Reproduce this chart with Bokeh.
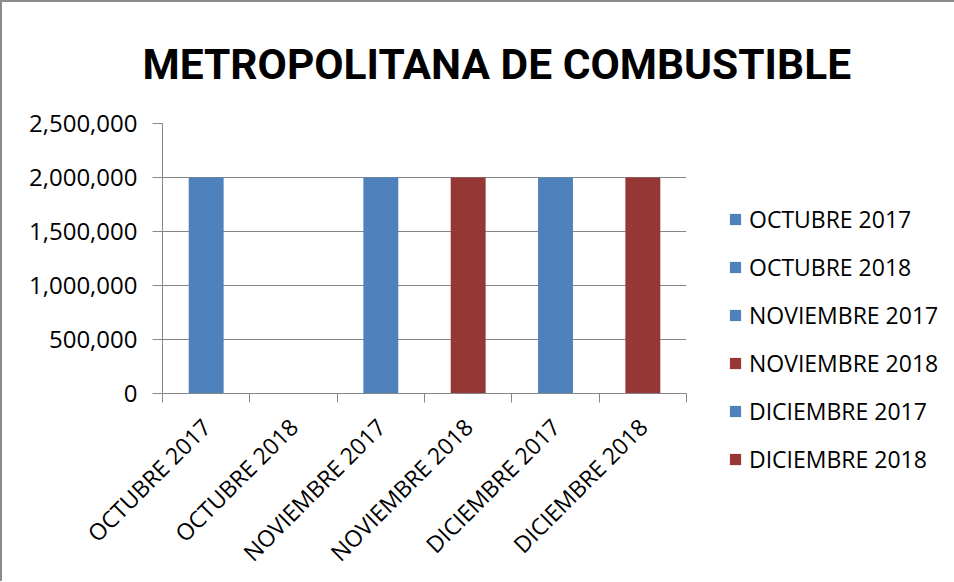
from bokeh.plotting import figure
from bokeh.models import FixedTicker, NumeralTickFormatter, LinearAxis
from bokeh.embed import file_html
from bokeh.resources import INLINE
import math

# ---- data ----
categories = ["OCTUBRE 2017", "OCTUBRE 2018", "NOVIEMBRE 2017",
              "NOVIEMBRE 2018", "DICIEMBRE 2017", "DICIEMBRE 2018"]
values = [2000000, 0, 2000000, 2000000, 2000000, 2000000]
bar_colors = ["#4F81BD", "#4F81BD", "#4F81BD", "#953735", "#4F81BD", "#953735"]
y_ticks = [0, 500000, 1000000, 1500000, 2000000, 2500000]
title_text = "METROPOLITANA DE COMBUSTIBLE"

n = len(categories)
centers = [i + 0.5 for i in range(n)]
bounds = [i for i in range(n + 1)]

FONT = "Open Sans"
GRAY = "#868686"

p = figure(frame_width=524, frame_height=270, x_range=(0, n), y_range=(0, y_ticks[-1]),
           output_backend="svg", toolbar_location=None,
           min_border_left=160, min_border_right=0,
           min_border_top=121, min_border_bottom=150,
           x_axis_type=None, title=title_text)
p.styles = {"border-top": "2px solid #8c8c8c", "border-left": "2px solid #8c8c8c"}
p.outline_line_color = None
p.background_fill_color = "white"
p.border_fill_color = "white"

for i in range(n):
    p.vbar(x=centers[i], top=values[i], width=0.4, fill_color=bar_colors[i],
           line_color=None, legend_label=categories[i])

# x axis
xaxis = LinearAxis(ticker=FixedTicker(ticks=centers, minor_ticks=bounds))
xaxis.major_label_overrides = {c: lab for c, lab in zip(centers, categories)}
xaxis.major_tick_line_color = None
xaxis.minor_tick_line_color = GRAY
xaxis.minor_tick_out = 9
xaxis.minor_tick_in = 0
xaxis.axis_line_color = GRAY
xaxis.major_label_orientation = math.pi / 4
xaxis.major_label_text_font = FONT
xaxis.major_label_text_font_size = "23px"
xaxis.major_label_text_color = "black"
xaxis.major_label_standoff = 20
p.add_layout(xaxis, "below")

# y axis
yaxis = p.yaxis[0]
yaxis.ticker = FixedTicker(ticks=y_ticks, minor_ticks=[])
yaxis.formatter = NumeralTickFormatter(format="0,0")
yaxis.axis_line_color = GRAY
yaxis.major_tick_line_color = GRAY
yaxis.major_tick_out = 10
yaxis.major_tick_in = 0
yaxis.major_label_text_font = FONT
yaxis.major_label_text_font_size = "24px"
yaxis.major_label_text_color = "black"
yaxis.major_label_standoff = 15

p.xgrid.grid_line_color = None
p.ygrid.grid_line_color = GRAY
p.ygrid.ticker = FixedTicker(ticks=y_ticks)

# title
p.title.align = "left"
p.title.offset = -20
p.title.standoff = 70
p.title.text_font = "Roboto"
p.title.text_font_style = "bold"
p.title.text_font_size = "42.5px"
p.title.text_color = "black"

# legend (in right panel)
lg = p.legend[0]
p.center.remove(lg)
p.add_layout(lg, "right")
lg.location = "top_left"
lg.padding = 0
lg.margin = 42
lg.title = " "
lg.title_text_font_size = "2px"
lg.title_standoff = 36
lg.border_line_color = None
lg.background_fill_alpha = 0
lg.glyph_width = 14
lg.glyph_height = 14
lg.label_height = 20
lg.label_standoff = 7
lg.spacing = 16
lg.label_text_font = FONT
lg.label_text_font_size = "23px"
lg.label_text_color = "black"

open("out.html", "w").write(file_html(p, INLINE))
